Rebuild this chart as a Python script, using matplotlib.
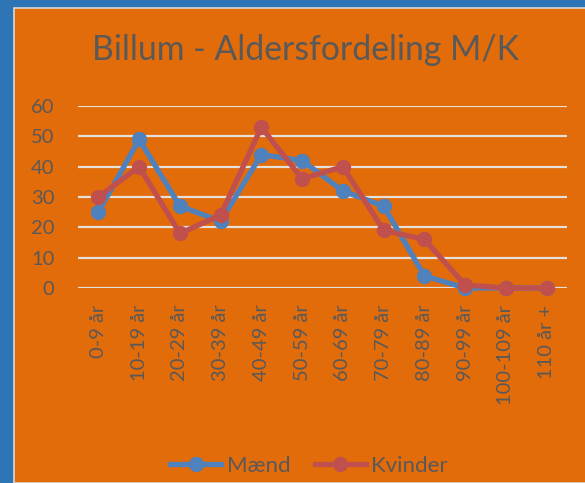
import matplotlib
matplotlib.use("Agg")
import matplotlib.pyplot as plt
from matplotlib.patches import Rectangle

kategorier = ["0-9 år", "10-19 år", "20-29 år", "30-39 år", "40-49 år", "50-59 år",
              "60-69 år", "70-79 år", "80-89 år", "90-99 år", "100-109 år", "110 år +"]
maend = [25, 49, 27, 22, 44, 42, 32, 27, 4, 0, 0, 0]
kvinder = [30, 40, 18, 24, 53, 36, 40, 19, 16, 1, 0, 0]
yticks = [0, 10, 20, 30, 40, 50, 60]

orange = "#E26B0A"
blaa = "#2E75B6"
tekst = "#595959"
plt.rcParams['font.family'] = ['Lato', 'DejaVu Sans']

fig = plt.figure(figsize=(5.85, 4.83), dpi=100)
fig.patch.set_facecolor(blaa)
fig.patches.append(Rectangle((14 / 585, 0), 1, 1 - 8 / 483, transform=fig.transFigure,
                             facecolor=orange, edgecolor="#D9D9D9", linewidth=1.2, zorder=-10))

ax = fig.add_axes([78 / 585, 1 - 288 / 483, (567 - 78) / 585, (288 - 106) / 483])
ax.set_facecolor(orange)
x = range(len(kategorier))
ax.plot(x, maend, "-o", color="#4F81BD", lw=3.8, ms=10, label="Mænd", zorder=3, clip_on=False)
ax.plot(x, kvinder, "-o", color="#C0504D", lw=3.8, ms=10, label="Kvinder", zorder=4, clip_on=False)

ax.set_xlim(-0.5, len(kategorier) - 0.5)
ax.set_ylim(0, 60)
ax.set_yticks(yticks)
ax.set_xticks(list(x))
ax.set_xticklabels(kategorier, rotation=90)
ax.grid(axis="y", color="#E6E0DA", lw=1.6)
ax.set_axisbelow(True)
for s in ax.spines.values():
    s.set_visible(False)
ax.tick_params(axis="both", length=0, colors=tekst, labelsize=14.5)
ax.tick_params(axis="y", pad=17)
ax.tick_params(axis="x", pad=12)

fig.text(305 / 585, 1 - 50 / 483, "Billum - Aldersfordeling M/K", color=tekst,
         fontsize=24.3, ha="center", va="center")

fig.legend(loc="center", bbox_to_anchor=(309 / 585, 1 - 466 / 483), ncol=2, frameon=False,
           fontsize=16, labelcolor=tekst, handlelength=2.3, handletextpad=0.25,
           columnspacing=1.1)

fig.savefig("out.png", dpi=100, facecolor=fig.get_facecolor())
